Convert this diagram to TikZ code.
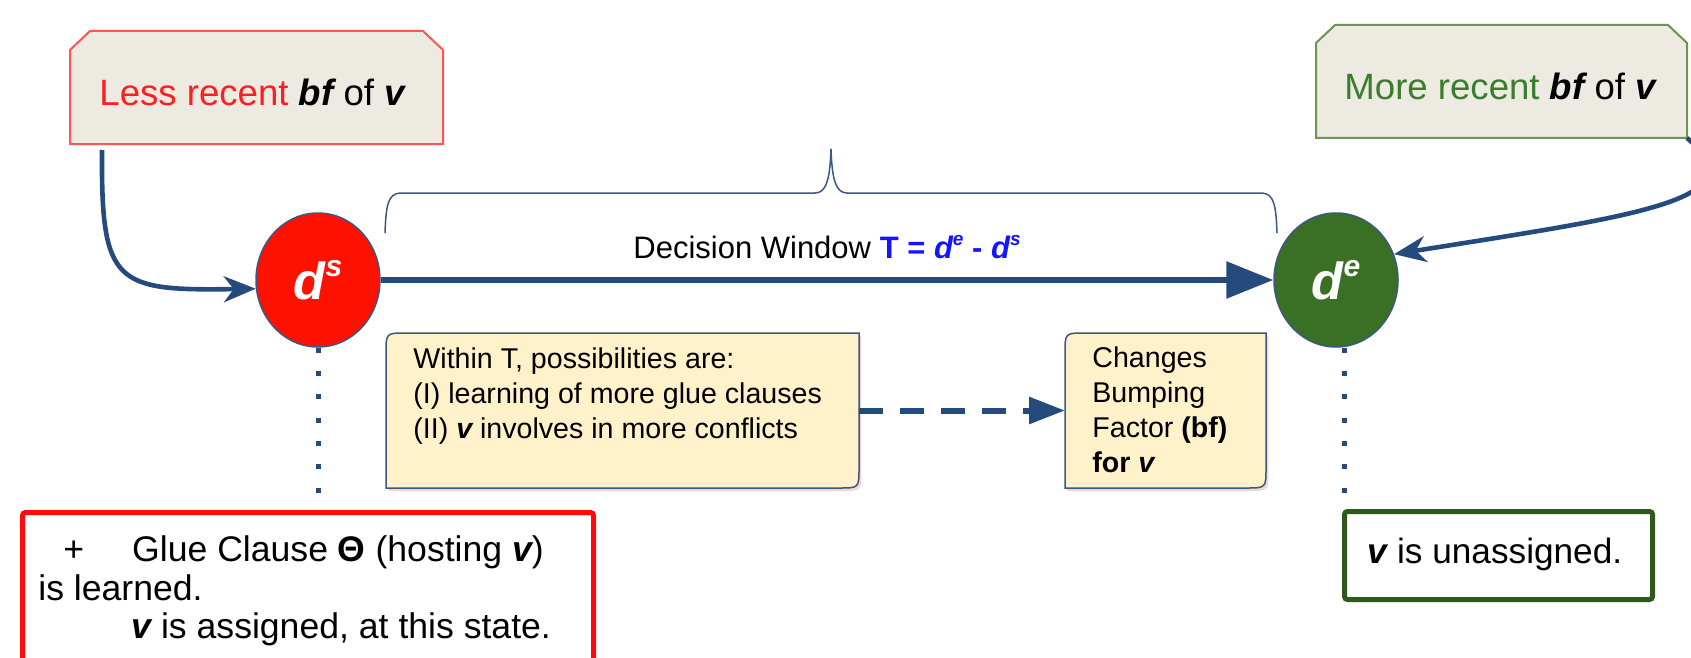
\documentclass[tikz,border=0pt]{standalone}
\usepackage{fontspec}
\setmainfont{Liberation Sans}
\usetikzlibrary{arrows.meta,calc,backgrounds,shapes.geometric}

\definecolor{arrowblue}{RGB}{37,74,124}
\definecolor{edgeblue}{RGB}{58,88,132}
\definecolor{beige}{RGB}{236,234,225}
\definecolor{lessred}{RGB}{255,30,30}
\definecolor{lessedge}{RGB}{255,85,85}
\definecolor{moregreen}{RGB}{58,125,44}
\definecolor{moreedge}{RGB}{106,150,80}
\definecolor{dsred}{RGB}{255,17,0}
\definecolor{degreen}{RGB}{58,112,35}
\definecolor{tblue}{RGB}{20,20,255}
\definecolor{noteyellow}{RGB}{255,241,202}
\definecolor{shadowpink}{RGB}{246,212,212}
\definecolor{boxred}{RGB}{255,10,10}
\definecolor{boxgreen}{RGB}{46,88,28}

\newcommand{\bivar}[1]{{\bfseries\itshape #1}}

\tikzset{
  dnode/.style={ellipse, draw=edgeblue, line width=0.75pt, minimum width=62pt, minimum height=67pt, inner sep=0pt, text=white, font=\fontsize{26}{26}\selectfont\bfseries\itshape},
  blank/.style={inner sep=0pt, outer sep=0pt, draw=none, anchor=north west},
  toplabel/.style={font=\fontsize{18.3}{22}\selectfont, inner sep=0pt, anchor=base},
  notetext/.style={font=\fontsize{14.3}{17.5}\selectfont, align=left, inner sep=0pt, anchor=north west},
  notebox/.style={draw=edgeblue, line width=0.75pt, fill=noteyellow},
  noteshadow/.style={fill=shadowpink, draw=none},
  lessbox/.style={draw=lessedge, line width=1pt, fill=beige},
  morebox/.style={draw=moreedge, line width=1pt, fill=beige},
  flow/.style={draw=arrowblue, line width=3pt, -{Triangle[length=23.5pt,width=18pt]}},
  feed/.style={draw=arrowblue, line width=2.3pt, -{Stealth[length=16pt,width=13pt,inset=5pt]}},
  dashflow/.style={draw=arrowblue, line width=3pt, dash pattern=on 12pt off 8.5pt, -{Triangle[length=18pt,width=13pt]}},
  dotline/.style={draw=arrowblue, line width=2.5pt, dash pattern=on 2.5pt off 9.15pt},
  bracket/.style={draw=edgeblue, line width=0.75pt},
  statebox/.style={line width=2.5pt, rounded corners=1.5pt, inner sep=0pt, anchor=north west},
}

\begin{document}
\begin{tikzpicture}[x=0.5pt,y=-0.5pt]
\useasboundingbox (0,0) rectangle (1691,658);
\clip (0,0) rectangle (1691,658);

% top labels (geometry holders)
\node[blank, minimum width=186.5pt, minimum height=56.5pt] (lessB) at (70,31) {};
\node[blank, minimum width=185.5pt, minimum height=56.5pt] (moreB) at (1316,25) {};
\node[toplabel] (lessT) at (252,105) {\textcolor{lessred}{Less recent} \bivar{bf} of \bivar{v}};
\node[toplabel] (moreT) at (1500,99) {\textcolor{moregreen}{More recent} \bivar{bf} of \bivar{v}};

% decision points
\node[dnode, fill=dsred] (ds) at (318,280) {d\raisebox{11.5pt}{\fontsize{15}{15}\selectfont s}};
\node[dnode, fill=degreen] (de) at (1336,280) {d\raisebox{11.5pt}{\fontsize{15}{15}\selectfont e}};

% note boxes (geometry holders)
\node[blank, minimum width=236.5pt, minimum height=77.5pt] (win) at (386,333) {};
\node[blank, minimum width=100.5pt, minimum height=77.5pt] (chg) at (1065,333) {};
\node[notetext] (winT) at (413,347) {Within T, possibilities are:\\(I) learning of more glue clauses\\(II) \bivar{v} involves in more conflicts};
\node[notetext] (chgT) at (1092,346.5) {Changes\\Bumping\\Factor \textbf{(bf)}\\\textbf{for \bivar{v}}};

% state boxes
\node[statebox, draw=boxred, minimum width=285.5pt, minimum height=90pt] (botL) at (20,510) {};
\node[notetext, font=\fontsize{17.8}{19.2}\selectfont] (botLT) at (38,535.5) {\hspace*{12.5pt}+\hspace*{24pt}Glue Clause \textbf{Θ} (hosting \bivar{v})\\is learned.\\\hspace*{46.5pt}\bivar{v} is assigned, at this state.};
\node[statebox, draw=boxgreen, minimum width=154pt, minimum height=44pt] (botR) at (1342,509) {};
\node[font=\fontsize{17.6}{20}\selectfont, anchor=base, inner sep=0pt] (botRT) at (1495,563) {\bivar{v} is unassigned.};

% decision window label
\node[font=\fontsize{15.5}{18}\selectfont, anchor=base, inner sep=0pt] (dw) at (827,258) {Decision Window \textcolor{tblue}{\textbf{T = \bivar{d}\raisebox{6.5pt}{\fontsize{9.5}{9.5}\selectfont\bivar{e}} - \bivar{d}\raisebox{6.5pt}{\fontsize{9.5}{9.5}\selectfont\bivar{s}}}}};

% shapes behind
\begin{pgfonlayer}{background}
\draw[lessbox] (lessB.south west) -- ([yshift=-9.5pt]lessB.north west) -- ([xshift=10pt]lessB.north west) -- ([xshift=-10pt]lessB.north east) -- ([yshift=-9.5pt]lessB.north east) -- (lessB.south east) -- cycle;
\draw[morebox] (moreB.south west) -- ([yshift=-9pt]moreB.north west) -- ([xshift=9.5pt]moreB.north west) -- ([xshift=-9.5pt]moreB.north east) -- ([yshift=-9pt]moreB.north east) -- (moreB.south east) -- cycle;
\foreach \b in {win,chg}{
  \path[noteshadow] ([shift={(1.2pt,-1.5pt)}]\b.south west) -- ([shift={(1.2pt,-11.5pt)}]\b.north west) .. controls ([shift={(1.2pt,-1.5pt)}]\b.north west) .. ([shift={(11.2pt,-1.5pt)}]\b.north west) -- ([shift={(1.2pt,-1.5pt)}]\b.north east) -- ([shift={(1.2pt,8.5pt)}]\b.south east) .. controls ([shift={(1.2pt,-1.5pt)}]\b.south east) .. ([shift={(-8.8pt,-1.5pt)}]\b.south east) -- cycle;
  \draw[notebox] (\b.south west) -- ([yshift=-10pt]\b.north west) .. controls (\b.north west) .. ([xshift=10pt]\b.north west) -- (\b.north east) -- ([yshift=10pt]\b.south east) .. controls (\b.south east) .. ([xshift=-10pt]\b.south east) -- cycle;
}
\end{pgfonlayer}

% brace over the window
\draw[bracket] (385,233) .. controls (386,205) and (388,194) .. (400,193) -- (815,193) .. controls (826,193) and (830,180) .. (831,149) .. controls (832,180) and (836,193) .. (847,193) -- (1262,193) .. controls (1274,194) and (1276,205) .. (1277,233);

% connectors
\draw[flow] (ds) -- (de);
\draw[dashflow] (win.east) -- (chg.west);
\draw[feed] ([xshift=16pt,yshift=-3pt]lessB.south west) .. controls (101,285) and (115,291) .. (ds.188);
\draw[feed] (moreB.south east) .. controls (1760,200) and (1640,215) .. (de.24);
\draw[dotline, shorten >=8pt] (ds.south) -- (ds.south |- botL.north);
\draw[dotline, shorten >=8pt] ([xshift=4pt]de.south) -- ([xshift=4pt]de.south |- botR.north);
\end{tikzpicture}
\end{document}
